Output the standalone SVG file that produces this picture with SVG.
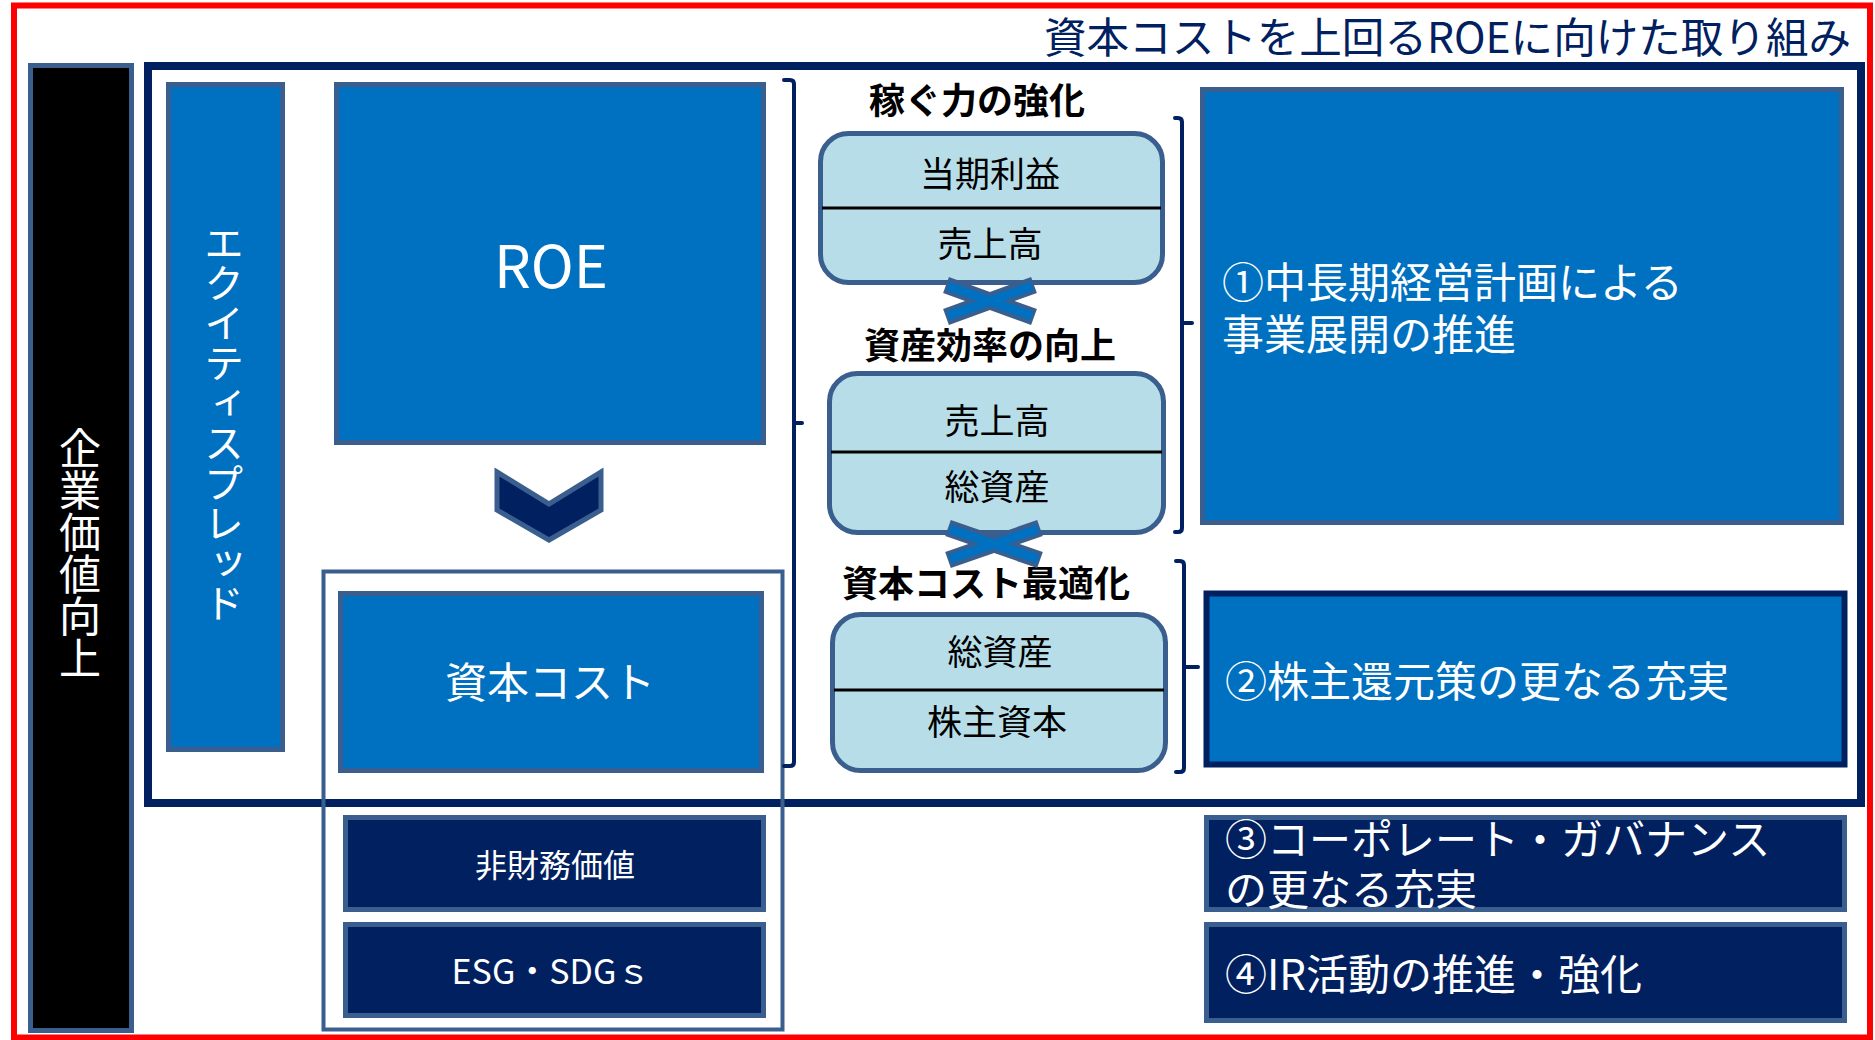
<svg xmlns="http://www.w3.org/2000/svg" width="1875" height="1040" viewBox="0 0 1875 1040">
<style>
.t{font-family:"Noto Sans CJK JP","Noto Sans",sans-serif;}
.w{fill:#ffffff;}
.k{fill:#000000;}
.lbl{font-weight:bold;font-size:36px;fill:#000;text-anchor:middle;}
.cell{font-size:35px;fill:#000;text-anchor:middle;}
.blue{fill:#0070C0;stroke:#3A5F8E;stroke-width:5;}
.navy{fill:#002060;stroke:#3A5F8E;stroke-width:5;}
.pill{fill:#B7DEE8;stroke:#3A5F8E;stroke-width:5;}
.div{stroke:#000;stroke-width:3;}
.br{fill:none;stroke:#002060;stroke-width:4;stroke-linejoin:round;stroke-linecap:round;}
.xo{stroke:#3A5F8E;stroke-width:17;}
.xi{stroke:#0070C0;stroke-width:9;}
.vt{writing-mode:vertical-rl;text-anchor:middle;}
.big{font-size:42px;fill:#fff;}
</style>
<rect width="1875" height="1040" fill="#ffffff"/>
<g id="frame">
<rect x="14" y="5.5" width="1856" height="1032" fill="none" stroke="#FF0000" stroke-width="6"/>
<rect x="148" y="66" width="1713" height="737" fill="none" stroke="#002060" stroke-width="8"/>
</g>
<text id="title" class="t" x="1044" y="53" font-size="42" fill="#002060" textLength="807" lengthAdjust="spacingAndGlyphs">資本コストを上回るROEに向けた取り組み</text>
<g id="node-kigyou">
<rect x="30.5" y="65.5" width="101" height="965" fill="#000" stroke="#3A5F8E" stroke-width="5"/>
<text class="t w vt" x="80" y="553" font-size="42">企業価値向上</text>
</g>
<g id="node-equity">
<rect class="blue" x="168.5" y="84.5" width="114" height="665"/>
<text class="t w vt" x="224" y="423" font-size="40">エクイティスプレッド</text>
</g>
<g id="node-roe">
<rect class="blue" x="336.5" y="84.5" width="427" height="358"/>
<text class="t w" x="551" y="288" font-size="58" text-anchor="middle">ROE</text>
</g>
<g id="chevron">
<polygon points="497,472 549,504 601,472 601,510 549,540 497,510" fill="#002060" stroke="#3A5F8E" stroke-width="5" stroke-linejoin="miter"/>
</g>
<g id="node-costgroup">
<rect x="323.5" y="571.5" width="459" height="458" fill="none" stroke="#3A5F8E" stroke-width="4"/>
</g>
<g id="node-cost">
<rect class="blue" x="340.5" y="593.5" width="421" height="177"/>
<text class="t big" x="550" y="698" text-anchor="middle">資本コスト</text>
</g>
<g id="node-nonfin">
<rect class="navy" x="345.5" y="817.5" width="418" height="92"/>
<text class="t w" x="555" y="877" font-size="32" text-anchor="middle">非財務価値</text>
</g>
<g id="node-esg">
<rect class="navy" x="345.5" y="924.5" width="418" height="91"/>
<text class="t w" x="551" y="984" font-size="34" text-anchor="middle">ESG・SDGｓ</text>
</g>
<g id="node-kasegu">
<text class="t lbl" x="977" y="114">稼ぐ力の強化</text>
<rect class="pill" x="820.5" y="133.5" width="342" height="149" rx="28"/>
<line class="div" x1="822" y1="208" x2="1161" y2="208"/>
<text class="t cell" x="990" y="187">当期利益</text>
<text class="t cell" x="990" y="257">売上高</text>
</g>
<g id="node-shisan">
<text class="t lbl" x="990" y="359">資産効率の向上</text>
<rect class="pill" x="829.5" y="373.5" width="334" height="159" rx="28"/>
<line class="div" x1="831" y1="452" x2="1162" y2="452"/>
<text class="t cell" x="997" y="434">売上高</text>
<text class="t cell" x="997" y="500">総資産</text>
</g>
<g id="node-saiteki">
<text class="t lbl" x="986" y="597">資本コスト最適化</text>
<rect class="pill" x="832.5" y="614.5" width="333" height="156" rx="28"/>
<line class="div" x1="834" y1="690" x2="1164" y2="690"/>
<text class="t cell" x="1000" y="665">総資産</text>
<text class="t cell" x="997" y="735">株主資本</text>
</g>
<g id="connectors">
<g id="cross1">
<line class="xo" x1="946" y1="285" x2="1034" y2="317"/>
<line class="xo" x1="946" y1="317" x2="1034" y2="285"/>
<line class="xi" x1="948" y1="286" x2="1032" y2="316"/>
<line class="xi" x1="948" y1="316" x2="1032" y2="286"/>
</g>
<g id="cross2">
<line class="xo" x1="948" y1="528" x2="1040" y2="560"/>
<line class="xo" x1="948" y1="560" x2="1040" y2="528"/>
<line class="xi" x1="950" y1="529" x2="1038" y2="559"/>
<line class="xi" x1="950" y1="559" x2="1038" y2="529"/>
</g>
<path class="br" d="M784,80 L790,80 Q794,80 794,84 L794,762 Q794,766 790,766 L784,766 M794,423 L802,423"/>
<path class="br" d="M1175,118 L1178,118 Q1182,118 1182,122 L1182,528 Q1182,532 1178,532 L1175,532 M1182,323 L1192,323"/>
<path class="br" d="M1176,561 L1180,561 Q1184,561 1184,565 L1184,768 Q1184,772 1180,772 L1176,772 M1184,667 L1198,667"/>
</g>
<g id="node-plan">
<rect class="blue" x="1202.5" y="89.5" width="639" height="433"/>
<text class="t big" x="1222" y="298">①中長期経営計画による</text>
<text class="t big" x="1222" y="350">事業展開の推進</text>
</g>
<g id="node-return">
<rect x="1206.5" y="593.5" width="638" height="171" fill="#0070C0" stroke="#002060" stroke-width="6"/>
<text class="t big" x="1225" y="697">②株主還元策の更なる充実</text>
</g>
<g id="node-governance">
<rect class="navy" x="1206.5" y="817.5" width="638" height="92"/>
<text class="t big" x="1225" y="855">③コーポレート・ガバナンス</text>
<text class="t big" x="1225" y="905">の更なる充実</text>
</g>
<g id="node-ir">
<rect class="navy" x="1206.5" y="924.5" width="638" height="96"/>
<text class="t big" x="1225" y="990">④IR活動の推進・強化</text>
</g>
</svg>
